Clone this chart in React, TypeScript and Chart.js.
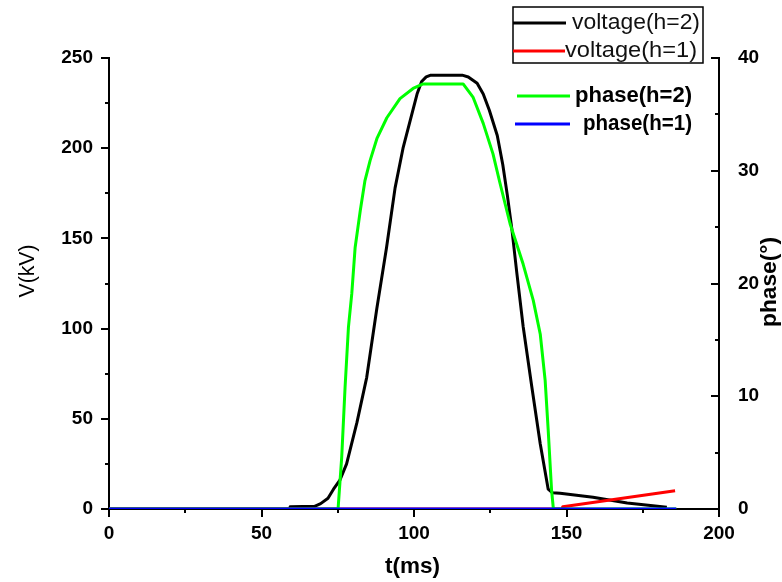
import { useEffect, useRef } from "react";
import { Chart, registerables } from "chart.js";

Chart.register(...registerables);

// ---- data ----
const tVoltage2 = [0, 59.3, 59.4, 67.4, 69.4, 71.8, 73.6, 75.7, 77.9, 81.3, 84.5, 87.8, 91.0, 93.8, 96.4, 98.7, 101.0, 102.5, 104.0, 105.5, 115.8, 117.8, 120.7, 122.7, 124.7, 127.3, 129.1, 130.6, 132.1, 133.7, 135.8, 138.6, 141.4, 144.0, 145.4, 147.9, 158.7, 169.9, 182.9];
const voltage2 = [0, 0, 1.3, 1.5, 3, 6, 11, 16, 25, 48, 73, 111, 145, 178, 200, 215, 230, 237, 239.5, 240.5, 240.5, 239.5, 236, 230, 221, 207, 191, 174, 155, 131, 101, 68, 36, 11, 9, 8.7, 6.5, 3.3, 1];

const tVoltage1 = [0, 148.5, 148.8, 185.6];
const voltage1 = [0, 0, 1.3, 10.1];

const tPhase2 = [0, 75.1, 76.3, 77.4, 78.5, 79.6, 80.7, 82.4, 83.9, 85.6, 87.9, 91.1, 95.4, 99.7, 103.0, 116.1, 119.4, 122.7, 125.9, 128.1, 131.5, 135.8, 139.1, 141.4, 143.0, 144.0, 145.1, 145.7, 186];
const phase2 = [0, 0, 4.6, 10.8, 16.1, 19.1, 23.2, 26.5, 29.1, 30.9, 32.9, 34.7, 36.4, 37.3, 37.7, 37.7, 36.5, 34.2, 31.5, 29, 25.3, 21.7, 18.5, 15.5, 11.4, 7, 1.7, 0, 0];

const tPhase1 = [0, 186];
const phase1 = [0, 0];

const xMajorStep = 50;
const xMinorTicks = [25, 75, 125, 175];
const yMajorStep = 50;
const yMinorTicks = [25, 75, 125, 175, 225];
const y2MajorTicks = [0, 10, 20, 30, 40];
const y2MinorTicks = [5, 15, 25, 35];

const xTitle = "t(ms)";
const yTitle = "V(kV)";
const y2Title = "phase(°)";
const legendVoltage = ["voltage(h=2)", "voltage(h=1)"];
const legendPhase = ["phase(h=2)", "phase(h=1)"];

const colors = { v2: "#000000", v1: "#ff0000", p2: "#00ff00", p1: "#0000ff" };

const FONT = '"Liberation Sans", Arial, Helvetica, sans-serif';

const pts = (xs: number[], ys: number[]) => xs.map((x, i) => ({ x, y: ys[i] }));

function fitText(ctx: CanvasRenderingContext2D, text: string, x: number, y: number, width: number, font: string, rotate = false) {
  ctx.save();
  ctx.font = font;
  const w = ctx.measureText(text).width;
  const s = width / w;
  ctx.translate(x, y);
  if (rotate) ctx.rotate(-Math.PI / 2);
  ctx.scale(s, 1);
  ctx.textAlign = rotate ? "center" : "left";
  ctx.textBaseline = "middle";
  ctx.fillText(text, 0, 0);
  ctx.restore();
}

const decorPlugin = {
  id: "decor",
  afterDraw(chart: any) {
    const ctx: CanvasRenderingContext2D = chart.ctx;
    const { x, y, y1 } = chart.scales;
    const area = chart.chartArea;
    ctx.save();
    ctx.strokeStyle = "#000";
    ctx.lineWidth = 2;
    ctx.beginPath();
    xMinorTicks.forEach((v) => {
      const px = Math.round(x.getPixelForValue(v));
      ctx.moveTo(px, area.bottom);
      ctx.lineTo(px, area.bottom + 4);
    });
    yMinorTicks.forEach((v) => {
      const py = Math.round(y.getPixelForValue(v));
      ctx.moveTo(area.left, py);
      ctx.lineTo(area.left - 4, py);
    });
    y2MajorTicks.forEach((v) => {
      const py = Math.round(y1.getPixelForValue(v));
      ctx.moveTo(area.right, py);
      ctx.lineTo(area.right - 8, py);
    });
    y2MinorTicks.forEach((v) => {
      const py = Math.round(y1.getPixelForValue(v));
      ctx.moveTo(area.right, py);
      ctx.lineTo(area.right - 4, py);
    });
    ctx.stroke();

    ctx.fillStyle = "#000";
    fitText(ctx, xTitle, 385, 567, 55, `bold 22px ${FONT}`);
    fitText(ctx, yTitle, 28, 271, 53, `22px ${FONT}`, true);
    fitText(ctx, y2Title, 770, 282, 90, `bold 22px ${FONT}`, true);

    ctx.lineWidth = 1.5;
    ctx.strokeStyle = "#000";
    ctx.strokeRect(513, 7, 190, 56);
    ctx.lineWidth = 3;
    ctx.strokeStyle = colors.v2;
    ctx.beginPath(); ctx.moveTo(513, 23); ctx.lineTo(566, 23); ctx.stroke();
    ctx.strokeStyle = colors.v1;
    ctx.beginPath(); ctx.moveTo(513, 51); ctx.lineTo(565, 51); ctx.stroke();
    ctx.fillStyle = "#111";
    fitText(ctx, legendVoltage[0], 572, 23, 128, `22px ${FONT}`);
    fitText(ctx, legendVoltage[1], 565, 51, 132, `22px ${FONT}`);

    ctx.strokeStyle = colors.p2;
    ctx.beginPath(); ctx.moveTo(517, 96); ctx.lineTo(570, 96); ctx.stroke();
    ctx.strokeStyle = colors.p1;
    ctx.beginPath(); ctx.moveTo(515, 124); ctx.lineTo(570, 124); ctx.stroke();
    ctx.fillStyle = "#000";
    fitText(ctx, legendPhase[0], 575, 96, 117, `bold 22px ${FONT}`);
    fitText(ctx, legendPhase[1], 583, 124, 109, `bold 22px ${FONT}`);
    ctx.restore();
  },
};

export default function App() {
  const canvasRef = useRef<HTMLCanvasElement | null>(null);

  useEffect(() => {
    const canvas = canvasRef.current;
    if (!canvas) return;
    const tickFont = { family: FONT, size: 19, weight: "bold" as const };
    const chart = new Chart(canvas, {
      type: "line",
      data: {
        datasets: [
          { label: legendVoltage[0], data: pts(tVoltage2, voltage2), borderColor: colors.v2, yAxisID: "y", order: 4 },
          { label: legendVoltage[1], data: pts(tVoltage1, voltage1), borderColor: colors.v1, yAxisID: "y", order: 3 },
          { label: legendPhase[0], data: pts(tPhase2, phase2), borderColor: colors.p2, yAxisID: "y1", order: 2 },
          { label: legendPhase[1], data: pts(tPhase1, phase1), borderColor: colors.p1, yAxisID: "y1", order: 1 },
        ].map((d) => ({
          ...d,
          borderWidth: 3,
          pointRadius: 0,
          tension: 0,
          fill: false,
          borderJoinStyle: "round" as const,
        })),
      },
      options: {
        animation: false,
        responsive: false,
        maintainAspectRatio: false,
        layout: { padding: { top: 58, left: 0, right: 0, bottom: 0 } },
        plugins: {
          legend: { display: false },
          tooltip: { enabled: false },
        },
        scales: {
          x: {
            type: "linear",
            position: "bottom",
            min: 0,
            max: 200,
            afterFit: (s: any) => { s.height = 73; },
            ticks: { stepSize: xMajorStep, font: tickFont, color: "#000", padding: 5, maxRotation: 0, autoSkip: false },
            grid: { display: true, drawOnChartArea: false, drawTicks: true, tickLength: 8, tickColor: "#000", tickWidth: 2, lineWidth: 2 },
            border: { display: true, color: "#000", width: 2 },
          },
          y: {
            type: "linear",
            position: "left",
            min: 0,
            max: 250,
            afterFit: (s: any) => { s.width = 109; },
            ticks: { stepSize: yMajorStep, font: tickFont, color: "#000", padding: 8 },
            grid: { display: true, drawOnChartArea: false, drawTicks: true, tickLength: 8, tickColor: "#000", tickWidth: 2, lineWidth: 2 },
            border: { display: true, color: "#000", width: 2 },
          },
          y1: {
            type: "linear",
            position: "right",
            min: 0,
            max: 40,
            afterFit: (s: any) => { s.width = 63; },
            ticks: { stepSize: 10, font: tickFont, color: "#000", padding: 11 },
            grid: { display: true, drawOnChartArea: false, drawTicks: true, tickLength: 8, tickColor: "rgba(0,0,0,0)", tickWidth: 2, lineWidth: 2 },
            border: { display: true, color: "#000", width: 2 },
          },
        },
      },
      plugins: [decorPlugin],
    });
    return () => chart.destroy();
  }, []);

  return (
    <div style={{ position: "fixed", left: 0, top: 0, width: 782, height: 582, background: "#fff" }}>
      <canvas ref={canvasRef} width={782} height={582} style={{ display: "block" }} />
    </div>
  );
}
